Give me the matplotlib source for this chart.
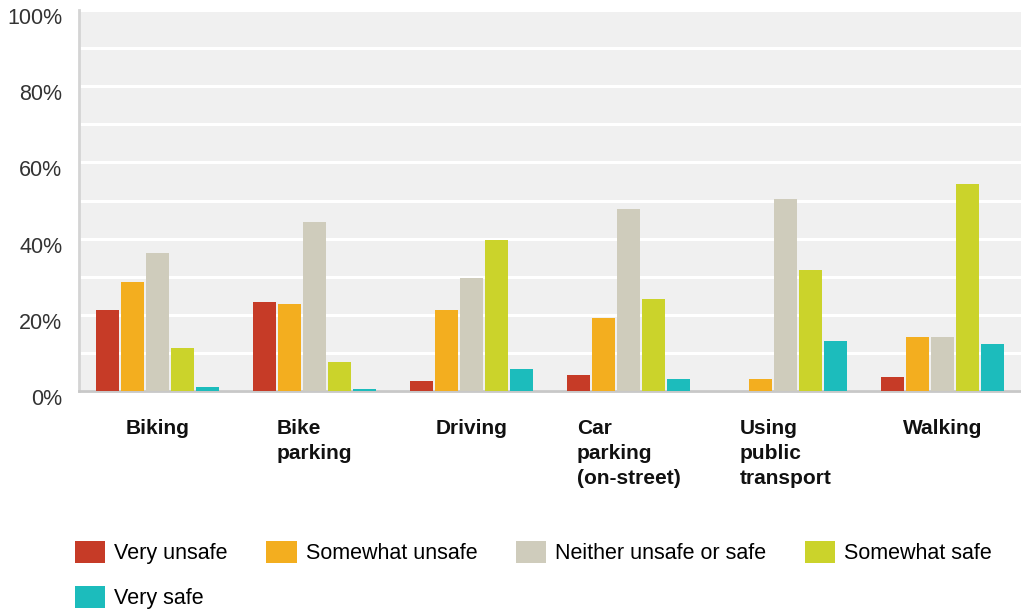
import matplotlib as mpl
mpl.use('Agg')
import matplotlib.pyplot as plt
import matplotlib.transforms as mtransforms
from matplotlib.patches import Patch
import numpy as np

plt.rcParams['font.family'] = ['Liberation Sans', 'DejaVu Sans']

categories = ["Biking", "Bike\nparking", "Driving", "Car\nparking\n(on-street)",
              "Using\npublic\ntransport", "Walking"]
series = ["Very unsafe", "Somewhat unsafe", "Neither unsafe or safe",
          "Somewhat safe", "Very safe"]
very_unsafe = [21.3, 23.4, 2.6, 4.2, 0.0, 3.7]
somewhat_unsafe = [28.6, 22.8, 21.3, 19.2, 3.1, 14.2]
neither = [36.2, 44.4, 29.7, 47.8, 50.4, 14.2]
somewhat_safe = [11.3, 7.6, 39.6, 24.1, 31.8, 54.3]
very_safe = [1.1, 0.5, 5.8, 3.1, 13.1, 12.3]
yticks = [0, 20, 40, 60, 80, 100]

colors = ["#c63b27", "#f3ae1f", "#cfccbc", "#cbd32b", "#1cbcbc"]

fig = plt.figure(figsize=(10.21, 6.11), dpi=100)
ax = fig.add_axes([79 / 1021, 1 - 391 / 611, 942 / 1021, 381 / 611])
ax.set_facecolor("#f0f0f0")

x = np.arange(len(categories))
slot = 0.159
values = [very_unsafe, somewhat_unsafe, neither, somewhat_safe, very_safe]
for i, vals in enumerate(values):
    ax.bar(x + (i - 2) * slot, vals, width=0.147, color=colors[i],
           linewidth=0, label=series[i], zorder=3)

ax.set_xlim(-0.5, len(categories) - 0.5)
ax.set_ylim(0, 100)
ax.set_yticks(range(0, 101, 10), minor=True)
ax.set_yticks(yticks, [f"{v}%" for v in yticks])
ax.yaxis.grid(True, which="both", color="white", linewidth=2.2, zorder=1)
ax.tick_params(axis="y", which="both", length=0, pad=12, labelsize=15.5, labelcolor="#333333")
for lab in ax.get_yticklabels():
    lab.set_transform(lab.get_transform() + mtransforms.ScaledTranslation(0, -6 / 100, fig.dpi_scale_trans))

ax.set_xticks(x, categories)
ax.tick_params(axis="x", length=0, pad=20, labelsize=15, labelcolor="#111111")
for lab in ax.get_xticklabels():
    lab.set_fontweight("bold")
    lab.set_multialignment("left")
    lab.set_linespacing(1.4)

for s in ["top", "right"]:
    ax.spines[s].set_visible(False)
ax.spines["left"].set_color("#d4d4d4")
ax.spines["left"].set_linewidth(2)
ax.spines["bottom"].set_color("#c8c8c8")
ax.spines["bottom"].set_linewidth(2)

# legend fills column by column, so order the handles to read row by row
order = [0, 4, 1, 2, 3]
handles = [Patch(facecolor=colors[i], label=series[i]) for i in order]
fig.legend(handles=handles, loc="upper left", bbox_to_anchor=(75 / 1021, 1 - 541 / 611),
           ncol=4, frameon=False, fontsize=15.5, handlelength=1.4, handleheight=1.2,
           handletextpad=0.42, columnspacing=1.8, labelspacing=1.0, borderpad=0,
           borderaxespad=0)

fig.savefig("out.png", dpi=100)
